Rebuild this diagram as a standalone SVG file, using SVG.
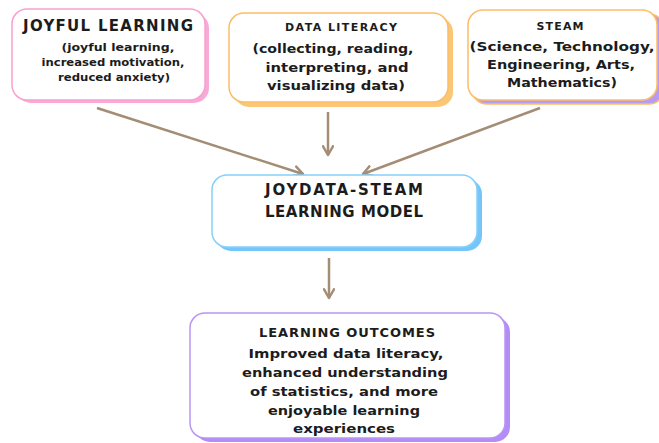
<svg xmlns="http://www.w3.org/2000/svg" width="659" height="443" viewBox="0 0 659 443">
<defs>
<style>
text{font-family:"DejaVu Sans","Liberation Sans",sans-serif;font-weight:bold;fill:#1c1c1c;text-anchor:middle}
.t15{font-size:15px}
.t13{font-size:13px}
.t11{font-size:11px}
.box{fill:#fff;stroke-width:1.5}
.conn{stroke:#a38d74;stroke-width:2.5;fill:none;marker-end:url(#ah)}
</style>
<marker id="ah" viewBox="0 0 10 10" refX="8" refY="5" markerWidth="5" markerHeight="5" orient="auto" markerUnits="strokeWidth">
<path d="M1,1 L8,5 L1,9" fill="none" stroke="#a38d74" stroke-width="2" stroke-linecap="round" stroke-linejoin="round"/>
</marker>
</defs>
<rect width="659" height="443" fill="#fff"/>
<g id="connectors">
<line class="conn" x1="97" y1="108" x2="303" y2="174"/>
<line class="conn" x1="328" y1="112" x2="328" y2="155"/>
<line class="conn" x1="540" y1="108" x2="363" y2="174"/>
<line class="conn" x1="329" y1="258" x2="329" y2="298"/>
</g>
<g id="joyful">
<rect x="16" y="13" width="193" height="90" rx="15" fill="#f9a9d6"/>
<rect class="box" x="12" y="9" width="193" height="91" rx="15" stroke="#f7a1d0"/>
<text class="t15" x="108" y="31" textLength="170" lengthAdjust="spacing">JOYFUL LEARNING</text>
<text class="t11" x="118" y="51" textLength="113" lengthAdjust="spacingAndGlyphs">(joyful learning,</text>
<text class="t11" x="113" y="66" textLength="143" lengthAdjust="spacingAndGlyphs">increased motivation,</text>
<text class="t11" x="114" y="81" textLength="112" lengthAdjust="spacingAndGlyphs">reduced anxiety)</text>
</g>
<g id="data">
<rect x="234" y="17" width="219" height="90" rx="15" fill="#fcc775"/>
<rect class="box" x="229" y="13" width="219" height="89" rx="15" stroke="#fbbd68"/>
<text class="t11" x="341" y="31" textLength="112" lengthAdjust="spacing">DATA LITERACY</text>
<text class="t13" x="333" y="53" textLength="161" lengthAdjust="spacingAndGlyphs">(collecting, reading,</text>
<text class="t13" x="337" y="72" textLength="143" lengthAdjust="spacingAndGlyphs">interpreting, and</text>
<text class="t13" x="336" y="90" textLength="138" lengthAdjust="spacingAndGlyphs">visualizing data)</text>
</g>
<g id="steam">
<rect x="472" y="14" width="192" height="90" rx="15" fill="#b49cf4" stroke="#fbbd68" stroke-width="1.5"/>
<rect class="box" x="468" y="10" width="189" height="90" rx="15" stroke="#fbbd68"/>
<text class="t11" x="560" y="30" textLength="47" lengthAdjust="spacing">STEAM</text>
<text class="t13" x="562" y="51" textLength="185" lengthAdjust="spacingAndGlyphs">(Science, Technology,</text>
<text class="t13" x="561" y="69" textLength="148" lengthAdjust="spacingAndGlyphs">Engineering, Arts,</text>
<text class="t13" x="562" y="87" textLength="110" lengthAdjust="spacingAndGlyphs">Mathematics)</text>
</g>
<g id="model">
<rect x="216" y="179" width="266" height="72" rx="15" fill="#74c6f8"/>
<rect class="box" x="212" y="175" width="265" height="72" rx="15" stroke="#86d0fa"/>
<text class="t15" x="344" y="195" textLength="158" lengthAdjust="spacing">JOYDATA-STEAM</text>
<text class="t15" x="344" y="217" textLength="158" lengthAdjust="spacing">LEARNING MODEL</text>
</g>
<g id="outcomes">
<rect x="195" y="317" width="315" height="125" rx="15" fill="#b38cf5"/>
<rect class="box" x="190" y="313" width="315" height="125" rx="15" stroke="#b995f5"/>
<text class="t13" x="347" y="337" textLength="176" lengthAdjust="spacing">LEARNING OUTCOMES</text>
<text class="t13" x="346" y="358" textLength="195" lengthAdjust="spacingAndGlyphs">Improved data literacy,</text>
<text class="t13" x="345" y="377" textLength="206" lengthAdjust="spacingAndGlyphs">enhanced understanding</text>
<text class="t13" x="344" y="396" textLength="188" lengthAdjust="spacingAndGlyphs">of statistics, and more</text>
<text class="t13" x="344" y="415" textLength="152" lengthAdjust="spacingAndGlyphs">enjoyable learning</text>
<text class="t13" x="344" y="433" textLength="102" lengthAdjust="spacingAndGlyphs">experiences</text>
</g>
</svg>
